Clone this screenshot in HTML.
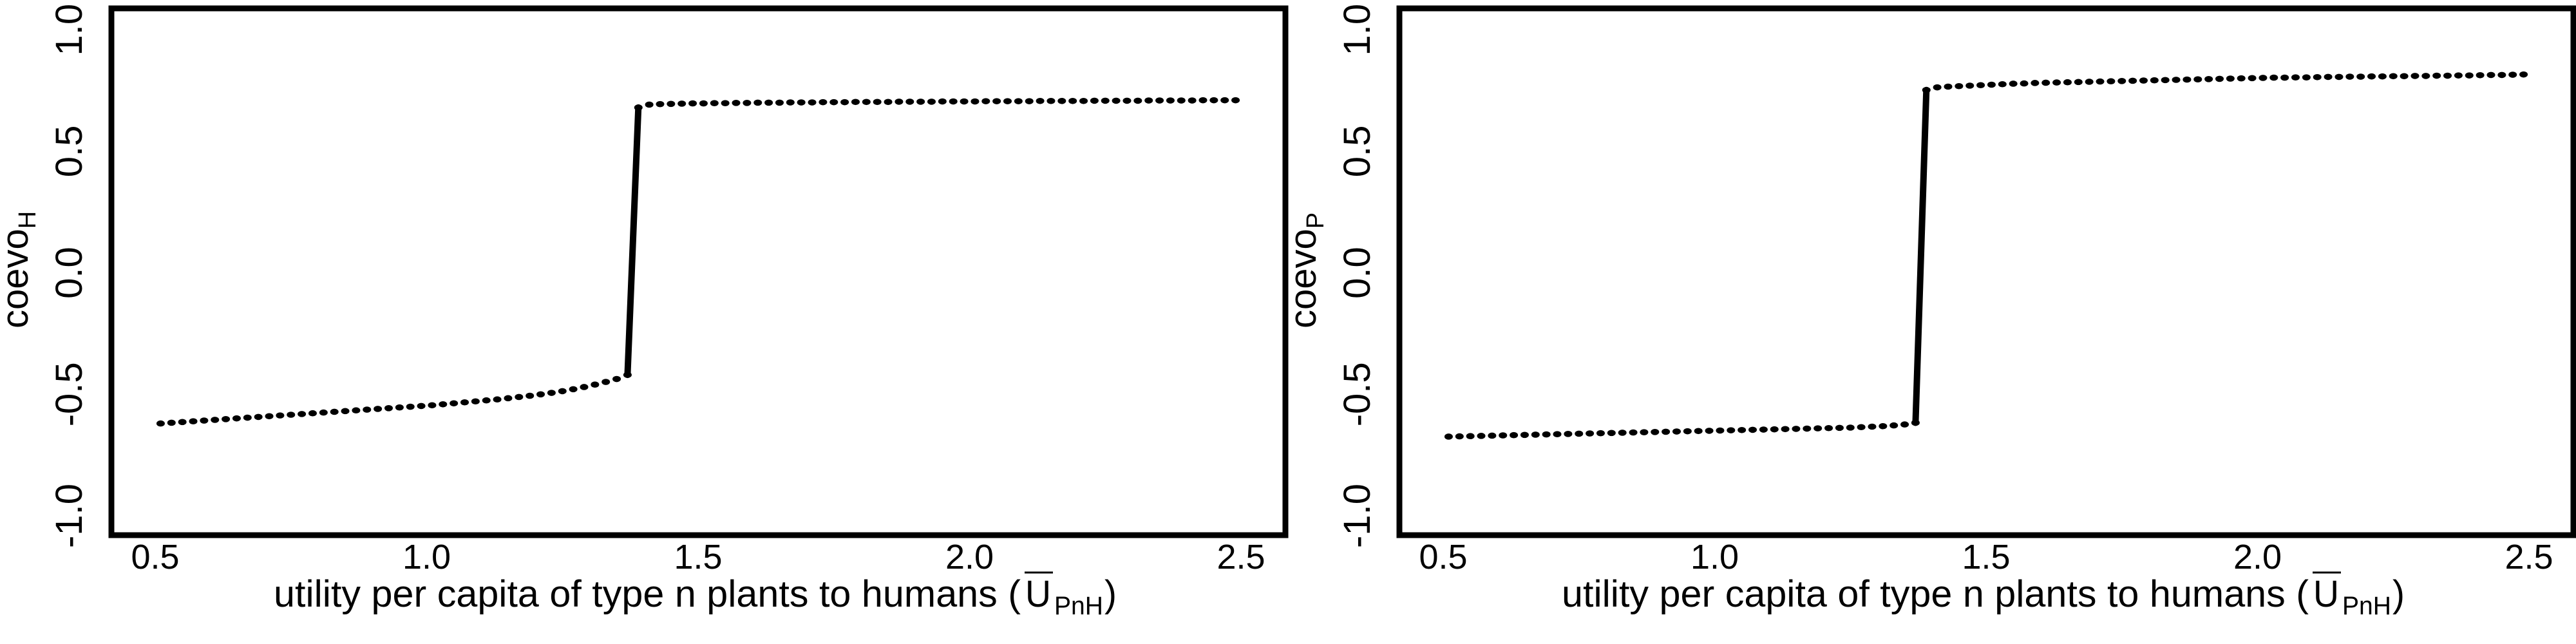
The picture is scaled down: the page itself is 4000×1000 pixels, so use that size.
<!DOCTYPE html>
<html><head><meta charset="utf-8"><style>
html,body{margin:0;padding:0;background:#fff}
svg{display:block}
text{font-family:"Liberation Sans",Arial,sans-serif;fill:#000}
</style></head><body>
<svg id="chart" width="4000" height="1000" viewBox="0 0 4000 1000" xmlns="http://www.w3.org/2000/svg">
<rect x="0" y="0" width="4000" height="1000" fill="#fff"/>
</svg>
<script>
// shared axis data
const xTicks = [0.5, 1.0, 1.5, 2.0, 2.5];
const xTickLabels = ["0.5", "1.0", "1.5", "2.0", "2.5"];
const yTicks = [-1.0, -0.5, 0.0, 0.5, 1.0];
const yTickLabels = ["-1.0", "-0.5", "0.0", "0.5", "1.0"];
// x values: lower branch and upper branch
const xLower = [0.51,0.53,0.55,0.57,0.59,0.61,0.63,0.65,0.67,0.69,0.71,0.73,0.75,0.77,0.79,0.81,0.83,0.85,0.87,0.89,0.91,0.93,0.95,0.97,0.99,1.01,1.03,1.05,1.07,1.09,1.11,1.13,1.15,1.17,1.19,1.21,1.23,1.25,1.27,1.29,1.31,1.33,1.35,1.37];
const xUpper = [1.39,1.41,1.43,1.45,1.47,1.49,1.51,1.53,1.55,1.57,1.59,1.61,1.63,1.65,1.67,1.69,1.71,1.73,1.75,1.77,1.79,1.81,1.83,1.85,1.87,1.89,1.91,1.93,1.95,1.97,1.99,2.01,2.03,2.05,2.07,2.09,2.11,2.13,2.15,2.17,2.19,2.21,2.23,2.25,2.27,2.29,2.31,2.33,2.35,2.37,2.39,2.41,2.43,2.45,2.47,2.49];
// left panel (coevo_H)
const hLower = [-0.620,-0.617,-0.614,-0.611,-0.608,-0.605,-0.602,-0.599,-0.596,-0.593,-0.590,-0.587,-0.584,-0.581,-0.578,-0.575,-0.572,-0.569,-0.566,-0.563,-0.560,-0.557,-0.554,-0.551,-0.548,-0.545,-0.541,-0.537,-0.533,-0.529,-0.525,-0.521,-0.516,-0.511,-0.506,-0.500,-0.494,-0.487,-0.479,-0.470,-0.460,-0.449,-0.437,-0.420];
const hUpper = [0.680,0.692,0.694,0.695,0.696,0.697,0.697,0.698,0.698,0.699,0.699,0.700,0.700,0.700,0.701,0.701,0.701,0.702,0.702,0.702,0.703,0.703,0.703,0.703,0.704,0.704,0.704,0.704,0.705,0.705,0.705,0.705,0.706,0.706,0.706,0.706,0.706,0.707,0.707,0.707,0.707,0.707,0.708,0.708,0.708,0.708,0.708,0.709,0.709,0.709,0.709,0.709,0.710,0.710,0.710,0.710];
// right panel (coevo_P)
const pLower = [-0.674,-0.673,-0.672,-0.671,-0.670,-0.669,-0.668,-0.667,-0.666,-0.665,-0.664,-0.663,-0.662,-0.661,-0.660,-0.659,-0.658,-0.657,-0.656,-0.655,-0.654,-0.653,-0.652,-0.651,-0.650,-0.649,-0.648,-0.647,-0.646,-0.645,-0.644,-0.643,-0.642,-0.641,-0.640,-0.639,-0.638,-0.637,-0.635,-0.633,-0.631,-0.628,-0.624,-0.617];
const pUpper = [0.752,0.763,0.766,0.768,0.770,0.772,0.774,0.776,0.778,0.779,0.781,0.782,0.783,0.784,0.785,0.786,0.787,0.788,0.789,0.790,0.791,0.792,0.793,0.794,0.795,0.796,0.797,0.798,0.799,0.800,0.801,0.802,0.803,0.803,0.804,0.804,0.805,0.806,0.806,0.807,0.807,0.808,0.808,0.809,0.809,0.810,0.810,0.811,0.811,0.812,0.812,0.813,0.814,0.814,0.815,0.816];

const NS = "http://www.w3.org/2000/svg";
const svg = document.getElementById("chart");
function mk(tag, attrs, parent){ const e=document.createElementNS(NS,tag); for(const k in attrs) e.setAttribute(k,attrs[k]); (parent||svg).appendChild(e); return e; }

function panel(ox, lower, upper, sub, key){
  const g = mk("g", {});
  
  
  const L = ox+173, R = ox+1996, T = 13, B = 831;
  const xS = v => ox + 241 + (v-0.5)*843;
  const yS = v => 801 - (v+1)*377.4;
  const jl = mk("line", {x1:xS(xLower[xLower.length-1]), y1:yS(lower[lower.length-1]), x2:xS(xUpper[0]), y2:yS(upper[0]), stroke:"#000","stroke-width":10,"stroke-linecap":"round"}, g);
  
  
  xLower.forEach((x,i)=>{
    const c = mk("ellipse", {cx:xS(x), cy:yS(lower[i]), rx:6.5, ry:4.8, fill:"#000"}, g);
    
    
  });
  xUpper.forEach((x,i)=>{
    const c = mk("ellipse", {cx:xS(x), cy:yS(upper[i]), rx:6.5, ry:4.8, fill:"#000"}, g);
    
    
  });
  const box = mk("rect", {x:L, y:T, width:R-L, height:B-T, fill:"none", stroke:"#000", "stroke-width":9}, g);
  
  
  xTicks.forEach((v,i)=>{
    const t = mk("text", {x:xS(v), y:883, "font-size":54, "text-anchor":"middle"}, g);
    t.textContent = xTickLabels[i];
    
    
  });
  yTicks.forEach((v,i)=>{
    const t = mk("text", {x:0, y:0, "font-size":58, "text-anchor":"middle", transform:`translate(${ox+127},${yS(v)}) rotate(-90)`}, g);
    t.textContent = yTickLabels[i];
    
    
  });
  const yt = mk("text", {x:0, y:0, "font-size":58, transform:`translate(${ox+43},510) rotate(-90)`}, g);
  
  
  yt.appendChild(document.createTextNode("coevo"));
  const ys = mk("tspan", {"font-size":38, dy:12}, yt); ys.textContent = sub;
  const xt = mk("text", {x:ox+425, y:942, "font-size":58, textLength:1160, lengthAdjust:"spacingAndGlyphs"}, g);
  xt.textContent = "utility per capita of type n plants to humans (";
  
  
  const u = mk("text", {x:ox+1592, y:942, "font-size":58, textLength:40, lengthAdjust:"spacingAndGlyphs"}, g);
  u.textContent = "U";
  
  
  mk("line", {x1:ox+1591, x2:ox+1635, y1:889, y2:889, stroke:"#000","stroke-width":3}, g);
  const s = mk("text", {x:ox+1637, y:954, "font-size":40, textLength:76, lengthAdjust:"spacingAndGlyphs"}, g);
  s.textContent = "PnH";
  
  
  const cp = mk("text", {x:ox+1715, y:942, "font-size":58, textLength:19, lengthAdjust:"spacingAndGlyphs"}, g);
  cp.textContent = ")";
}
panel(0, hLower, hUpper, "H", "coevo-h");
panel(2000, pLower, pUpper, "P", "coevo-p");
</script>
</body></html>
